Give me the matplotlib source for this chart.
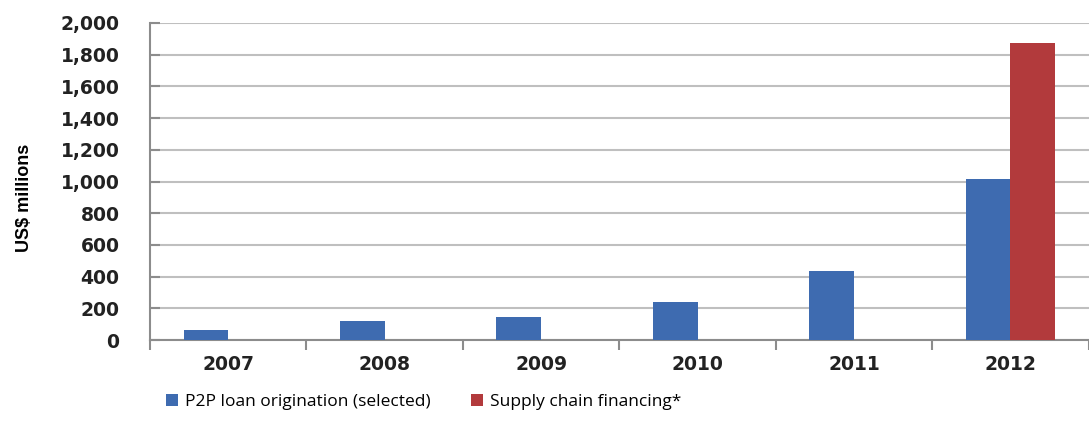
import numpy as np
import matplotlib
matplotlib.use('Agg')
import matplotlib.pyplot as plt
from matplotlib import font_manager

# Data
years = ['2007', '2008', '2009', '2010', '2011', '2012']
p2p_loans = [63, 122, 143, 242, 435, 1016]
supply_chain = [0, 0, 0, 0, 0, 1876]
y_ticks = list(range(0, 2001, 200))

blue = '#3E6BB0'
red = '#B23A3C'
grid_col = '#BFBFBF'
axis_col = '#8C8C8C'

installed = {f.name for f in font_manager.fontManager.ttflist}
narrow = 'Liberation Sans Narrow' if 'Liberation Sans Narrow' in installed else 'Liberation Sans'

fig = plt.figure(figsize=(10.89, 4.22), dpi=100)
ax = fig.add_axes([0.1377, 0.194, 0.862, 0.7515])

x = np.arange(len(years))
w = 0.285
ax.bar(x - w / 2, p2p_loans, width=w, color=blue, zorder=3,
       label='P2P loan origination (selected)')
ax.bar(x + w / 2, supply_chain, width=w, color=red, zorder=3,
       label='Supply chain financing*')

ax.set_xlim(-0.5, len(years) - 0.5)
ax.set_ylim(0, 2000)
ax.set_yticks(y_ticks)
ax.set_yticklabels([f'{v:,}' for v in y_ticks], fontweight='bold', fontsize=13.5,
                   color='#222222')
ax.yaxis.grid(True, color=grid_col, linewidth=1.5, zorder=0)

# category ticks sit on the boundaries, labels in the middle
ax.set_xticks(np.arange(-0.5, len(years) + 0.5, 1))
ax.set_xticklabels([])
ax.set_xticks(x, minor=True)
ax.set_xticklabels(years, minor=True, fontweight='bold', fontsize=13.5, color='#222222')
ax.tick_params(axis='x', which='minor', length=0, pad=11)
ax.tick_params(axis='x', which='major', length=7, width=1.5, color=axis_col, direction='out')
ax.tick_params(axis='y', length=7, width=1.5, color=axis_col, direction='in', pad=22)

for s in ['top', 'right']:
    ax.spines[s].set_visible(False)
for s in ['left', 'bottom']:
    ax.spines[s].set_color(axis_col)
    ax.spines[s].set_linewidth(1.5)

ax.set_ylabel('US$ millions', family=narrow, fontweight='bold', fontsize=13)
ax.yaxis.set_label_coords(-0.125, 0.45)

leg = fig.legend(loc='center left', bbox_to_anchor=(0.138, 0.047), ncol=2, frameon=False,
                 prop={'family': 'Open Sans', 'size': 12.5}, handlelength=0.7, handleheight=0.7,
                 handletextpad=0.4, columnspacing=2.3)

fig.savefig('out.png', dpi=100)
